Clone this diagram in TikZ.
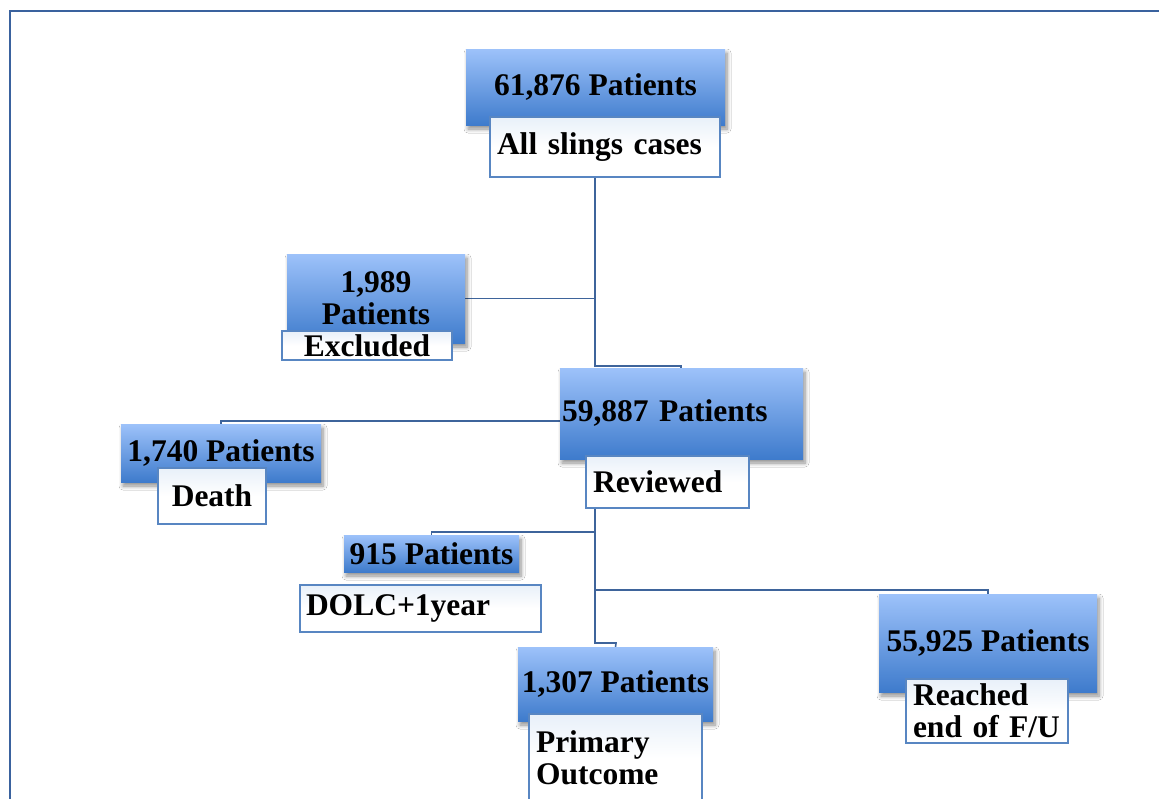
\documentclass[tikz,border=0pt]{standalone}
\usepackage{fontspec}
\setmainfont{Liberation Serif}
\usetikzlibrary{shadows.blur,backgrounds}
\definecolor{bluetop}{RGB}{157,194,250}
\definecolor{bluebot}{RGB}{62,123,204}
\definecolor{edgeblue}{RGB}{88,134,194}
\definecolor{linkblue}{RGB}{62,100,155}
\definecolor{frameblue}{RGB}{58,98,158}
\definecolor{tint}{RGB}{232,240,249}
\tikzset{
  txt/.style={font=\fontsize{31.5}{32}\selectfont\bfseries},
  bluebox/.style={rectangle, inner sep=0pt, top color=bluetop, bottom color=bluebot,
    draw=none, align=center, txt,
    blur shadow={shadow xshift=2pt, shadow yshift=-4pt, shadow blur radius=4pt,
      shadow blur steps=6, shadow opacity=45}},
  whitebox/.style={rectangle, inner sep=0pt, top color=tint, bottom color=white,
    middle color=white, draw=edgeblue, line width=1.4pt, align=center, txt},
  leftbox/.style={whitebox, align=left, inner xsep=7pt, inner ysep=0pt},
  conn/.style={draw=linkblue, line width=1.6pt},
}
\begin{document}
\begin{tikzpicture}[x=1pt,y=-1pt]
\clip (0,0) rectangle (1159,798);

% blue boxes
\node[bluebox, minimum width=259pt, minimum height=76pt] (n1) at (595.5,87) {61,876 Patients};
\node[bluebox, minimum width=178pt, minimum height=89pt] (n2) at (376,298.5) {1,989\\Patients};
\node[bluebox, minimum width=243pt, minimum height=91pt, inner xsep=2pt, text width=239pt, align=left] (n3) at (681.5,413.5) {59,887 Patients};
\node[bluebox, minimum width=200pt, minimum height=58pt] (n4) at (221,453) {1,740 Patients};
\node[bluebox, minimum width=175pt, minimum height=37pt] (n5) at (431.5,553.5) {915 Patients};
\node[bluebox, minimum width=195pt, minimum height=74pt] (n6) at (615.5,684) {1,307 Patients};
\node[bluebox, minimum width=218pt, minimum height=98pt] (n7) at (988,643) {55,925 Patients};

% white label boxes
\node[leftbox, text width=216pt, minimum height=60pt] (w1) at (605,147) {All slings cases};
\node[whitebox, minimum width=170pt, minimum height=29pt] (w2) at (367,345.5) {Excluded};
\node[leftbox, text width=149pt, minimum height=52pt] (w3) at (667.5,482) {Reviewed};
\node[whitebox, minimum width=108pt, minimum height=56pt] (w4) at (212,496) {Death};
\node[leftbox, inner xsep=6pt, text width=229pt, minimum height=47pt] (w5) at (420.5,608.5) {DOLC+1year};
\node[leftbox, text width=159pt, minimum height=88pt] (w6) at (615.5,758) {Primary\\Outcome};
\node[leftbox, text width=148pt, minimum height=64pt] (w7) at (987,711) {Reached\\end of F/U};

\coordinate (tr) at (595,0);
\coordinate (j1) at (681,366);
\coordinate (j3) at (616,643);

\begin{scope}[on background layer]
  \fill[white] (0,0) rectangle (1159,798);
  \draw[draw=frameblue, line width=2.6pt] (10,11) rectangle (1180,820);
  \draw[conn] (w1.south -| tr) |- (j1) -- (j1 |- n3.north);
  \draw[conn] (n2.east) -- (n2.east -| tr);
  \draw[conn] (n3.west |- 0,421) -| (n4.north);
  \draw[conn] (w3.south -| tr) |- (j3) -- (n6.north);
  \draw[conn] (tr |- 0,532) -| (n5.north);
  \draw[conn] (tr |- 0,590) -| (n7.north);
\end{scope}
\end{tikzpicture}
\end{document}
